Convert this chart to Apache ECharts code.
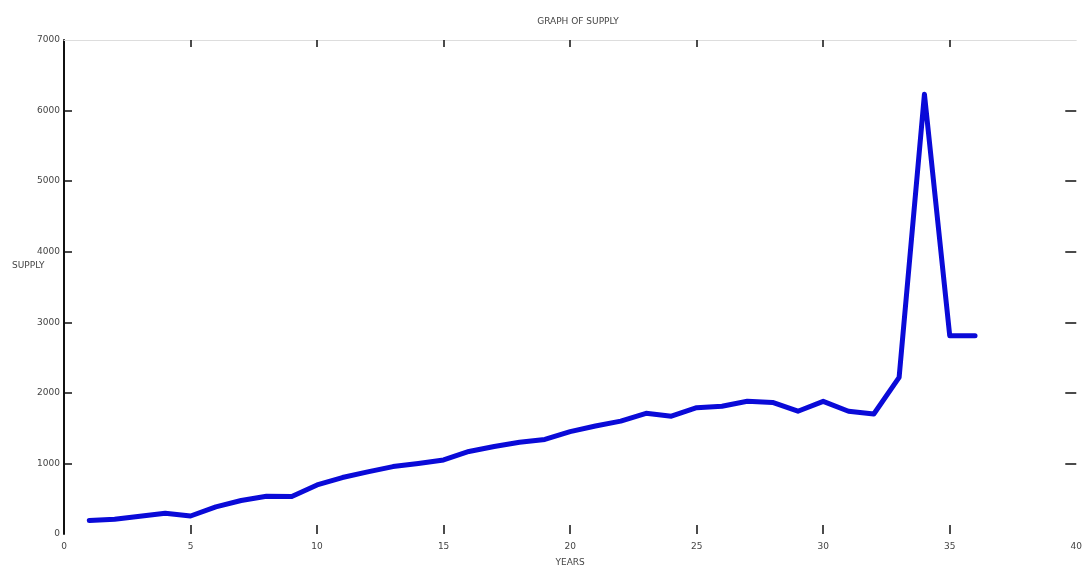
<!DOCTYPE html>
<html>
<head>
<meta charset="utf-8">
<script src="https://cdn.jsdelivr.net/npm/echarts@6/dist/echarts.min.js"></script>
<style>html,body{margin:0;padding:0;background:#fff;}#c{width:1085px;height:572px;}</style>
</head>
<body>
<div id="c"></div>
<script>
const years = [1,2,3,4,5,6,7,8,9,10,11,12,13,14,15,16,17,18,19,20,21,22,23,24,25,26,27,28,29,30,31,32,33,34,35,36];
const supply = [190,210,250,295,255,385,475,535,530,695,800,880,955,1000,1050,1170,1240,1300,1340,1450,1530,1600,1710,1670,1790,1810,1880,1865,1740,1880,1740,1700,2220,6230,2810,2810];
const xInnerTicks = [5,10,15,20,25,30,35];
const yInnerTicks = [1000,2000,3000,4000,5000,6000];
const titleText = 'GRAPH OF SUPPLY';
const xName = 'YEARS';
const yName = 'SUPPLY';

const chart = echarts.init(document.getElementById('c'), null, {renderer:'canvas'});
const font = 'DejaVu Sans';
chart.setOption({
  animation: false,
  backgroundColor: '#fff',
  title: {text: titleText, left: 573, top: 12, textAlign: 'center',
    textStyle: {fontSize: 9, fontWeight: 'normal', color: '#444', fontFamily: font}},
  grid: {left: 64, right: 3, top: 40, bottom: 34, containLabel: false},
  graphic: [
    {type: 'text', left: 12, top: 261, style: {text: yName, fontSize: 9, fill: '#444', fontFamily: font}}
  ],
  xAxis: [
    {type: 'value', position: 'bottom', min: 0, max: 40, interval: 5,
      name: xName, nameLocation: 'middle', nameGap: 24,
      nameTextStyle: {fontSize: 9, color: '#444', fontFamily: font},
      axisLine: {show: false, onZero: false},
      axisTick: {show: true, inside: true, length: 9, customValues: xInnerTicks, lineStyle: {color: '#111', width: 1.5}},
      axisLabel: {fontSize: 9, color: '#444', margin: 8, fontFamily: font},
      splitLine: {show: false}},
    {type: 'value', position: 'top', min: 0, max: 40, interval: 5,
      axisLine: {show: true, onZero: false, lineStyle: {color: '#ddd', width: 1}},
      axisTick: {show: true, inside: true, length: 7, customValues: xInnerTicks, lineStyle: {color: '#111', width: 1.5}},
      axisLabel: {show: false}, splitLine: {show: false}}
  ],
  yAxis: [
    {type: 'value', position: 'left', min: 0, max: 7000, interval: 1000,
      axisLine: {show: true, onZero: false, lineStyle: {color: '#111', width: 2}},
      axisTick: {show: true, inside: true, length: 8, customValues: yInnerTicks, lineStyle: {color: '#111', width: 1.5}},
      axisLabel: {fontSize: 9, color: '#444', margin: 4, fontFamily: font, formatter: v => String(v)},
      splitLine: {show: false}},
    {type: 'value', position: 'right', min: 0, max: 7000, interval: 1000,
      axisLine: {show: false, onZero: false},
      axisTick: {show: true, inside: true, length: 11, customValues: yInnerTicks, lineStyle: {color: '#111', width: 1.5}},
      axisLabel: {show: false}, splitLine: {show: false}}
  ],
  series: [{
    type: 'line', xAxisIndex: 0, yAxisIndex: 0,
    data: years.map((y, i) => [y, supply[i]]),
    showSymbol: false, symbol: 'none',
    lineStyle: {color: '#0a0ad8', width: 5, join: 'round', cap: 'round'}
  }]
});
</script>
</body>
</html>
